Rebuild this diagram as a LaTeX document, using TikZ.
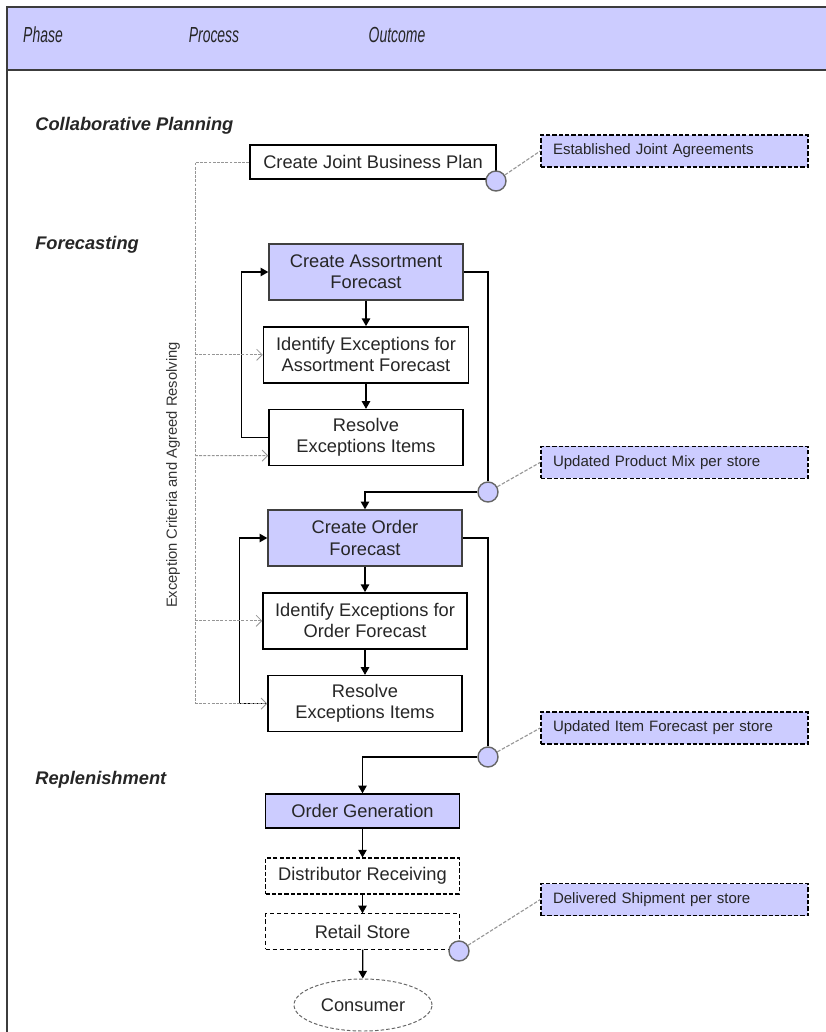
\documentclass[tikz,border=0pt]{standalone}
\usepackage{fontspec}
\setmainfont{Liberation Sans}
\newfontfamily\headfont[FakeStretch=0.64]{Liberation Sans}
\usepackage{tikz}
\usetikzlibrary{arrows.meta,shapes,positioning}

\definecolor{procblue}{RGB}{204,204,255}
\definecolor{framegray}{RGB}{60,60,60}
\definecolor{exgray}{RGB}{150,150,150}

\begin{document}
\begin{tikzpicture}[->,>={Triangle[length=5.5pt,width=6pt]},line width=0.9pt,
                    node distance=2.07cm]
  \tikzstyle{head}=[font=\headfont\itshape\fontsize{15.5}{17}\selectfont, text=black!85]
  \tikzstyle{phase}=[anchor=west, font=\bfseries\itshape\fontsize{13}{15}\selectfont, text=black!85]
  \tikzstyle{proc}=[draw, rectangle, line width=1pt, minimum width=4.85cm, minimum height=1.4cm,
                    align=center, font=\fontsize{13}{15}\selectfont, text=black!85]
  \tikzstyle{bproc}=[proc, fill=procblue, draw=black!75]
  \tikzstyle{dproc}=[proc, minimum height=0.88cm, dash pattern=on 3pt off 1.5pt]
  \tikzstyle{dot}=[circle, draw=black!60, fill=procblue, line width=1pt, minimum size=0.5cm, inner sep=0pt]
  \tikzstyle{outc}=[draw, fill=procblue, rectangle, line width=1.1pt, dash pattern=on 3pt off 1.5pt,
                    text width=6.075cm, inner xsep=0.3cm, minimum height=0.8cm, align=left,
                    font=\fontsize{10.7}{12}\selectfont, text=black!85]
  \tikzstyle{outline}=[-, exgray, line width=0.8pt, dash pattern=on 2.5pt off 1.2pt]
  \tikzstyle{exline}=[-, exgray, line width=0.6pt, dash pattern=on 2pt off 1pt]
  \tikzstyle{exarrow}=[exline, -{Straight Barb[length=4pt,width=8pt]}]

  \useasboundingbox (0,0) rectangle (20.65,-25.8);
  \fill[procblue] (0.175,-0.175) rectangle (20.65,-1.75);
  \draw[-, line width=1.4pt, framegray] (20.65,-0.175) -- (0.175,-0.175) -- (0.175,-25.8);
  \draw[-, line width=1.4pt, framegray] (0.175,-1.75) -- (20.65,-1.75);

  \node[head] (h1) at (1.075,-0.875) {Phase};
  \node[head] (h2) at (5.35,-0.875) {Process};
  \node[head] (h3) at (9.925,-0.875) {Outcome};

  \node[phase] (p1) at (0.75,-3.15) {Collaborative Planning};
  \node[phase] (p2) at (0.75,-6.125) {Forecasting};
  \node[phase] (p3) at (0.75,-19.5) {Replenishment};

  \node[proc, minimum width=6.15cm, minimum height=0.85cm] (plan) at (9.325,-4.05) {Create Joint Business Plan};
  \node[bproc] (assort) at (9.15,-6.8) {Create Assortment\\Forecast};
  \node[proc, minimum width=5.125cm] (ident1) [below of=assort] {Identify Exceptions for\\Assortment Forecast};
  \node[proc] (resolve1) [below of=ident1] {Resolve\\Exceptions Items};
  \node[bproc] (order) at (9.125,-13.45) {Create Order\\Forecast};
  \node[proc, minimum width=5.1cm] (ident2) [below of=order] {Identify Exceptions for\\Order Forecast};
  \node[proc] (resolve2) [below of=ident2] {Resolve\\Exceptions Items};
  \node[bproc, minimum height=0.85cm, draw=black] (ordgen) at (9.0625,-20.275) {Order Generation};
  \node[dproc, line width=1.3pt, node distance=1.625cm] (distrib) [below of=ordgen] {Distributor Receiving};
  \node[dproc, line width=0.8pt, dash pattern=on 3pt off 2pt, node distance=1.3875cm] (retail) [below of=distrib] {Retail Store};
  \node[ellipse, draw=black!60, line width=0.7pt, dash pattern=on 2.5pt off 1.5pt, minimum width=3.45cm,
        minimum height=1.3cm, font=\fontsize{13}{15}\selectfont, text=black!85] (consumer) at (9.075,-25.125) {Consumer};

  \node[dot] (d1) at (12.4,-4.525) {};
  \node[dot] (d2) at (12.2,-12.3) {};
  \node[dot] (d3) at (12.2,-18.925) {};
  \node[dot] (d4) at (11.475,-23.775) {};

  \node[outc] (o1) at (16.8625,-3.775) {Established Joint Agreements};
  \node[outc] (o2) at (16.8625,-11.56) {Updated Product Mix per store};
  \node[outc] (o3) at (16.8625,-18.2) {Updated Item Forecast per store};
  \node[outc] (o4) at (16.8625,-22.49) {Delivered Shipment per store};

  \draw (assort) -- (ident1);
  \draw (ident1) -- (resolve1);
  \draw (resolve1.west) -- ++(-0.675,0) |- (assort.west);
  \draw[-] (assort.east) -| (d2.north);
  \draw (d2.west) -| (order.north);
  \draw (order) -- (ident2);
  \draw (ident2) -- (resolve2);
  \draw (resolve2.west) -- ++(-0.7,0) |- (order.west);
  \draw[-] (order.east) -| (d3.north);
  \draw (d3.west) -| (ordgen.north);
  \draw (ordgen) -- (distrib);
  \draw (distrib) -- (retail);
  \draw (retail) -- (consumer);

  \draw[outline] (d1) -- (o1.west);
  \draw[outline] (d2) -- (o2.west);
  \draw[outline] (d3) -- (o3.west);
  \draw[outline] (d4) -- (o4.west);

  \coordinate (ex) at (4.875,-4.05);
  \draw[exline] (plan.west) -- (ex) -- (ex |- resolve2.west);
  \draw[exarrow] (ex |- ident1.west) -- (ident1.west);
  \draw[exarrow] (ex |- resolve1.west) ++(0,-0.45) -- ([yshift=-0.45cm]resolve1.west);
  \draw[exarrow] (ex |- ident2.west) -- (ident2.west);
  \draw[exarrow] (ex |- resolve2.west) -- (resolve2.west);
  \node[rotate=90, font=\fontsize{10.5}{12}\selectfont, text=black!80] (exlab) at (4.325,-11.875) {Exception Criteria and Agreed Resolving};
\end{tikzpicture}
\end{document}
